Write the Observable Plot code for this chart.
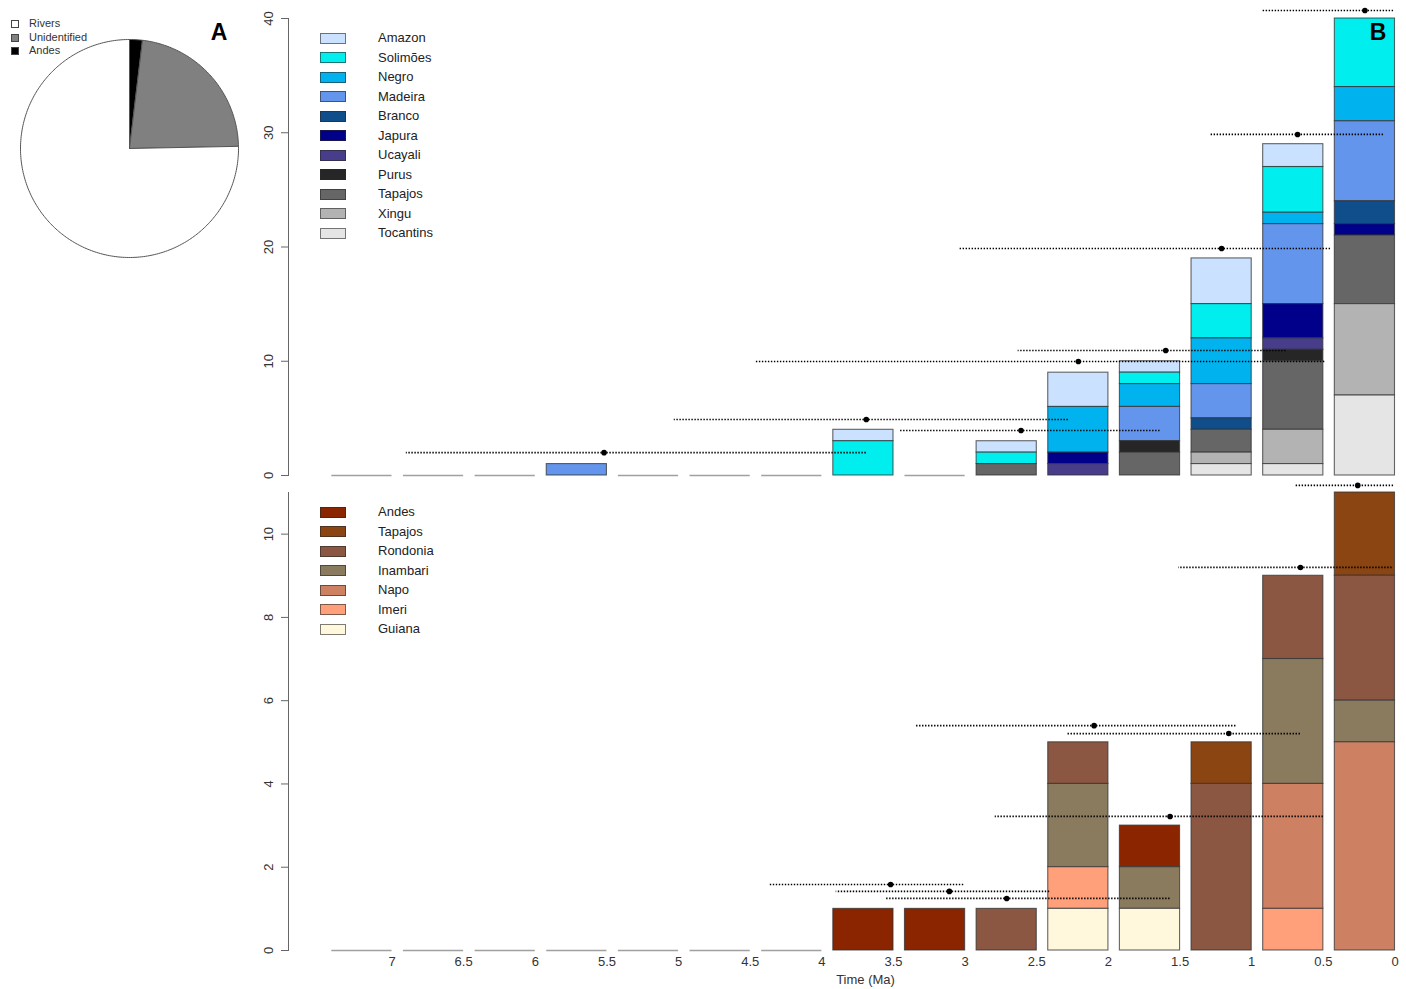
<!DOCTYPE html>
<html>
<head>
<meta charset="utf-8">
<script src="https://cdn.jsdelivr.net/npm/d3@7"></script>
<script src="https://cdn.jsdelivr.net/npm/@observablehq/plot@0.6"></script>
<style>
  html, body { margin: 0; padding: 0; background: #fff; }
  #root { position: relative; width: 1406px; height: 989px; font-family: "Liberation Sans", Arial, sans-serif; }
  #root svg { position: absolute; left: 0; top: 0; overflow: visible; }
  .lg { position: absolute; font-size: 13px; color: #222; line-height: 1; }
  .sw { position: absolute; box-sizing: border-box; border: 1px solid rgba(40,40,40,0.6); }
  .tag { position: absolute; font-weight: bold; font-size: 23px; color: #000; transform: translate(-50%, -50%); }
</style>
</head>
<body>
<div id="root"></div>
<script>
// ---------------- DATA ----------------
const bins = [7, 6.5, 6, 5.5, 5, 4.5, 4, 3.5, 3, 2.5, 2, 1.5, 1, 0.5, 0]; // bin start (Ma)
const barWidth = 0.42;

// Panel B (top): rivers, legend order (top of stack first)
const rivers = ["Amazon", "Solimões", "Negro", "Madeira", "Branco", "Japura", "Ucayali", "Purus", "Tapajos", "Xingu", "Tocantins"];
const riverColors = ["#CAE1FF", "#00EEEE", "#00B2EE", "#6495ED", "#104E8B", "#00008B", "#483D8B", "#262626", "#666666", "#B3B3B3", "#E5E5E5"];
const Amazon    = [0,0,0,0,0,0,0,1,0,1,3,1,4,2,0];
const Solimoes  = [0,0,0,0,0,0,0,3,0,1,0,1,3,4,6];
const Negro     = [0,0,0,0,0,0,0,0,0,0,4,2,4,1,3];
const Madeira   = [0,0,0,1,0,0,0,0,0,0,0,3,3,7,7];
const Branco    = [0,0,0,0,0,0,0,0,0,0,0,0,1,0,2];
const Japura    = [0,0,0,0,0,0,0,0,0,0,1,0,0,3,1];
const Ucayali   = [0,0,0,0,0,0,0,0,0,0,1,0,0,1,0];
const Purus     = [0,0,0,0,0,0,0,0,0,0,0,1,0,1,0];
const TapajosR  = [0,0,0,0,0,0,0,0,0,1,0,2,2,6,6];
const Xingu     = [0,0,0,0,0,0,0,0,0,0,0,0,1,3,8];
const Tocantins = [0,0,0,0,0,0,0,0,0,0,0,0,1,1,7];
const riverSeries = [Amazon, Solimoes, Negro, Madeira, Branco, Japura, Ucayali, Purus, TapajosR, Xingu, Tocantins];

// Bottom panel: areas of endemism
const areas = ["Andes", "Tapajos", "Rondonia", "Inambari", "Napo", "Imeri", "Guiana"];
const areaColors = ["#8B2500", "#8B4513", "#8B5742", "#8B7B5E", "#CD8162", "#FFA07A", "#FFF8DC"];
const Andes     = [0,0,0,0,0,0,0,1,1,0,0,1,0,0,0];
const TapajosA  = [0,0,0,0,0,0,0,0,0,0,0,0,1,0,2];
const Rondonia  = [0,0,0,0,0,0,0,0,0,1,1,0,4,2,3];
const Inambari  = [0,0,0,0,0,0,0,0,0,0,2,1,0,3,1];
const Napo      = [0,0,0,0,0,0,0,0,0,0,0,0,0,3,5];
const Imeri     = [0,0,0,0,0,0,0,0,0,0,1,0,0,1,0];
const Guiana    = [0,0,0,0,0,0,0,0,0,0,1,1,0,0,0];
const areaSeries = [Andes, TapajosA, Rondonia, Inambari, Napo, Imeri, Guiana];

// Age estimates (dot) with intervals, top panel
const topErrY   = [2.0, 4.9, 3.94, 9.98, 10.94, 19.87, 29.85, 40.7];
const topErrLo  = [3.69, 2.28, 1.64, 0.49, 0.76, 0.45, 0.08, 0.01];
const topErrMid = [5.52, 3.69, 2.61, 2.21, 1.60, 1.21, 0.68, 0.21];
const topErrHi  = [6.90, 5.03, 3.46, 4.46, 2.63, 3.04, 1.29, 0.93];
// bottom panel
const botErrY   = [1.585, 1.42, 1.25, 3.22, 5.40, 5.21, 9.20, 11.17];
const botErrLo  = [3.01, 2.41, 1.57, 0.50, 1.11, 0.66, 0.02, 0.01];
const botErrMid = [3.52, 3.11, 2.71, 1.57, 2.10, 1.16, 0.66, 0.26];
const botErrHi  = [4.36, 3.90, 3.55, 2.79, 3.34, 2.29, 1.51, 0.70];

// Pie (A)
const pieLabels = ["Andes", "Unidentified", "Rivers"];
const pieValues = [3, 36, 119];
const pieColors = ["#000000", "#808080", "#FFFFFF"];
const pieLegend = ["Rivers", "Unidentified", "Andes"];

const xTicks = [7, 6.5, 6, 5.5, 5, 4.5, 4, 3.5, 3, 2.5, 2, 1.5, 1, 0.5, 0];
const topYTicks = [0, 10, 20, 30, 40];
const botYTicks = [0, 2, 4, 6, 8, 10];

// ---------------- BUILD ----------------
const root = document.getElementById("root");

function tidy(names, series) {
  const out = [];
  names.forEach((n, i) => series[i].forEach((v, j) => { if (v > 0) out.push({series: n, start: bins[j], end: bins[j] + barWidth, count: v}); }));
  return out;
}
function zeros(series) {
  return bins.filter((b, j) => d3.sum(series, s => s[j]) === 0);
}
function errs(Y, Lo, Mid, Hi) { return Y.map((y, i) => ({y, lo: Lo[i], mid: Mid[i], hi: Hi[i]})); }

const topData = tidy(rivers, riverSeries);
const botData = tidy(areas, areaSeries);
const xScale = {domain: [0, 7], range: [1394.5, 391.5]};
const font = '"Liberation Sans", Arial, sans-serif';
const narrow = '"Liberation Sans Narrow", "Arial Narrow", "Liberation Sans", sans-serif';

function barMarks(data, names, zeroBins, errData) {
  return [
    Plot.ruleY(zeroBins, {x1: d => d, x2: d => d + barWidth, y: 0, stroke: "#a0a0a0", strokeWidth: 1.6}),
    Plot.rect(data, Plot.stackY({x: "start", x1: "start", x2: "end", y: "count", fill: "series", order: names.slice().reverse(), stroke: "#333", strokeOpacity: 0.75, strokeWidth: 1.1})),
    Plot.ruleY(errData, {x1: "lo", x2: "hi", y: "y", stroke: "#000", strokeWidth: 1.7, strokeDasharray: "1.4,1.6"}),
    Plot.dot(errData, {x: "mid", y: "y", r: 2.8, fill: "#000", stroke: "none"})
  ];
}

const topPlot = Plot.plot({
  width: 1406, height: 989,
  marginTop: 18, marginBottom: 514, marginLeft: 288, marginRight: 0,
  x: {...xScale, axis: null},
  y: {domain: [0, 40]},
  color: {domain: rivers, range: riverColors},
  style: {background: "none", fontFamily: font, overflow: "visible"},
  marks: [
    Plot.frame({anchor: "left", stroke: "#666"}),
    Plot.axisY({ticks: topYTicks, tickSize: 7, tickRotate: -90, fontSize: 13, tickPadding: 9, stroke: "#666", color: "#333", label: null}),
    ...barMarks(topData, rivers, zeros(riverSeries), errs(topErrY, topErrLo, topErrMid, topErrHi))
  ]
});

const botPlot = Plot.plot({
  width: 1406, height: 989,
  marginTop: 492, marginBottom: 39, marginLeft: 288, marginRight: 0,
  x: xScale,
  y: {domain: [0, 11]},
  color: {domain: areas, range: areaColors},
  style: {background: "none", fontFamily: font, overflow: "visible"},
  marks: [
    Plot.frame({anchor: "left", stroke: "#666"}),
    Plot.axisY({ticks: botYTicks, tickSize: 7, tickRotate: -90, fontSize: 13, tickPadding: 9, stroke: "#666", color: "#333", label: null}),
    Plot.axisX({ticks: xTicks, tickSize: 0, tickPadding: 6, fontSize: 13, color: "#333", label: null, tickFormat: d => String(d), fontFamily: narrow}),
    Plot.text(["Time (Ma)"], {frameAnchor: "bottom", dx: 18, dy: 33, fontSize: 13, fill: "#333", fontFamily: narrow}),
    ...barMarks(botData, areas, zeros(areaSeries), errs(botErrY, botErrLo, botErrMid, botErrHi))
  ]
});

// Pie: polygon outline of each slice computed from d3.pie angles
const arcs = d3.pie().sort(null).value(d => d)(pieValues);
const piePts = [];
arcs.forEach((a, i) => {
  const name = pieLabels[i];
  piePts.push({name, x: 0, y: 0});
  const n = Math.max(2, Math.ceil((a.endAngle - a.startAngle) / (Math.PI / 180)));
  for (let k = 0; k <= n; k++) {
    const t = a.startAngle + (a.endAngle - a.startAngle) * k / n;
    piePts.push({name, x: Math.sin(t), y: Math.cos(t)});
  }
  piePts.push({name, x: 0, y: 0});
});
const piePlot = Plot.plot({
  width: 260, height: 260,
  margin: 0,
  x: {domain: [-1, 1], range: [20, 238], axis: null},
  y: {domain: [-1, 1], range: [257, 39], axis: null},
  style: {background: "none", overflow: "visible"},
  marks: pieLabels.map((n, i) => Plot.line(piePts.filter(p => p.name === n), {x: "x", y: "y", fill: pieColors[i], stroke: "#555", strokeWidth: 1, curve: "linear"}))
});

root.appendChild(topPlot);
root.appendChild(botPlot);
root.appendChild(piePlot);

// ---------------- LEGENDS / TAGS ----------------
function addLegend(names, colors, y0, step) {
  names.forEach((n, i) => {
    const cy = y0 + i * step;
    const sw = document.createElement("div");
    sw.className = "sw";
    Object.assign(sw.style, {left: "320px", top: (cy - 5.5) + "px", width: "26px", height: "11px", background: colors[i]});
    root.appendChild(sw);
    const lb = document.createElement("div");
    lb.className = "lg";
    lb.textContent = n;
    Object.assign(lb.style, {left: "378px", top: (cy - 7) + "px"});
    root.appendChild(lb);
  });
}
addLegend(rivers, riverColors, 38, 19.5);
addLegend(areas, areaColors, 512, 19.5);

pieLegend.forEach((n, i) => {
  const cy = 24 + i * 13.7;
  const sw = document.createElement("div");
  sw.className = "sw";
  Object.assign(sw.style, {left: "11px", top: (cy - 4) + "px", width: "8px", height: "8px", background: pieColors[pieLabels.indexOf(n)], border: "1px solid #444"});
  root.appendChild(sw);
  const lb = document.createElement("div");
  lb.className = "lg";
  lb.textContent = n;
  Object.assign(lb.style, {left: "29px", top: (cy - 6) + "px", fontSize: "11px", color: "#333"});
  root.appendChild(lb);
});

[["A", 219, 32], ["B", 1378, 32]].forEach(([t, x, y]) => {
  const d = document.createElement("div");
  d.className = "tag";
  d.textContent = t;
  Object.assign(d.style, {left: x + "px", top: y + "px"});
  root.appendChild(d);
});
</script>
</body>
</html>
